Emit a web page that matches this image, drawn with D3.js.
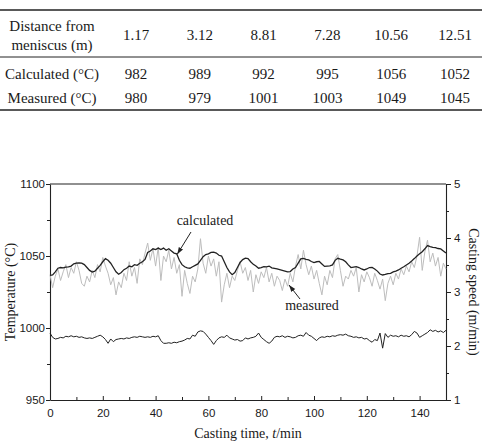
<!DOCTYPE html>
<html>
<head>
<meta charset="utf-8">
<script src="https://cdn.jsdelivr.net/npm/d3@7"></script>
<style>
  body { margin: 0; background: #fff; }
  svg text { fill: #1a1a1a; }
  .serif { font-family: "Liberation Serif", "Times New Roman", Times, "DejaVu Serif", serif; }
  .sans { font-family: "Liberation Sans", Arial, Helvetica, "DejaVu Sans", sans-serif; }
</style>
</head>
<body>
<div id="chart"></div>
<script>
// table values
const distances = ["1.17", "3.12", "8.81", "7.28", "10.56", "12.51"];
const calcRow = [982, 989, 992, 995, 1056, 1052];
const measRow = [980, 979, 1001, 1003, 1049, 1045];

// calculated temperature, one value per minute (0..150)
const calcTemp = [1036.5,1036.8,1039,1041.5,1042,1041.8,1042.2,1042.5,1043,1044.6,
  1045,1045.2,1045,1044,1042,1040,1038.8,1039.5,1041.5,1043.5,
  1046,1048.2,1047,1045,1042,1039,1037.3,1038.5,1040.5,1041.5,
  1043,1042.5,1044,1043.5,1045,1046,1047.6,1052.5,1053.5,1055,
  1054.5,1055.5,1054.5,1055.5,1054,1055,1053.5,1052,1051.5,1047,
  1044,1042.5,1041.8,1041.5,1042.5,1043.5,1044.5,1047,1049.5,1051,
  1051.5,1052.5,1052.6,1052,1050.5,1050,1046,1042,1039,1037,
  1038.5,1042,1045.5,1047.5,1048.5,1048.2,1046,1044.2,1043,1041.5,
  1042,1042.6,1042.5,1043,1041.8,1041.4,1041,1040.5,1040,1039.5,
  1039,1039.2,1041,1042,1045,1048,1048.3,1047.6,1047.3,1046.2,
  1045.4,1046,1046.2,1044.5,1042.8,1043,1043.2,1043.8,1047,1048.4,
  1047.8,1047.3,1046,1043.8,1042,1042.3,1042.6,1042,1041,1040.3,
  1041,1042,1042.1,1041,1039.5,1037.5,1036.8,1037.2,1037.8,1038,
  1039,1039.5,1040.3,1041.5,1042.5,1043.8,1045,1046.5,1048.2,1050,
  1051.5,1053,1055,1057.2,1056.5,1056,1055.8,1055.2,1054.9,1053.5,1052];

// measured temperature, one value per minute (0..150)
const measTemp = [1037,1028,1036,1041,1033,1039,1044,1035,1042,1038,
  1046,1040,1031,1029,1036,1032,1040,1035,1044,1039,
  1049,1043,1038,1030,1035,1023,1032,1028,1038,1033,
  1046,1036,1042,1031,1048,1044,1052,1059,1047,1055,
  1043,1056,1033,1050,1046,1054,1041,1049,1038,1044,
  1022,1040,1031,1024,1036,1032,1041,1062,1045,1038,
  1050,1043,1048,1036,1046,1018,1030,1038,1028,1036,
  1033,1040,1046,1038,1042,1033,1040,1025,1037,1031,
  1039,1035,1042,1032,1038,1029,1036,1033,1026,1034,
  1029,1038,1032,1043,1051,1041,1054,1044,1037,1043,
  1034,1040,1031,1023,1036,1030,1040,1035,1048,1051,
  1040,1029,1036,1034,1040,1036,1042,1025,1037,1032,
  1039,1035,1029,1038,1033,1027,1034,1019,1031,1036,
  1030,1038,1034,1041,1037,1043,1039,1046,1042,1050,
  1063,1040,1053,1061,1046,1052,1043,1049,1036,1045,1041];

// casting speed (m/min), one value per minute (0..150)
const speed = [2.24,2.16,2.13,2.14,2.16,2.15,2.18,2.17,2.19,2.17,
  2.18,2.16,2.17,2.15,2.14,2.15,2.14,2.16,2.18,2.20,
  2.17,2.12,2.05,2.13,2.08,2.12,2.13,2.14,2.13,2.15,
  2.14,2.16,2.17,2.16,2.18,2.17,2.16,2.17,2.16,2.18,
  2.17,2.19,2.10,2.05,2.05,2.06,2.05,2.07,2.06,2.08,
  2.09,2.11,2.14,2.13,2.20,2.18,2.26,2.28,2.27,2.22,
  2.16,2.10,2.03,2.10,2.15,2.17,2.16,2.20,2.15,2.13,
  2.11,2.12,2.09,2.10,2.15,2.13,2.15,2.16,2.18,2.24,
  2.16,2.12,2.08,2.05,2.09,2.16,2.18,2.17,2.19,2.16,
  2.18,2.17,2.15,2.16,2.19,2.20,2.18,2.25,2.20,2.18,
  2.14,2.10,2.15,2.17,2.16,2.18,2.17,2.19,2.18,2.20,
  2.21,2.20,2.22,2.19,2.18,2.16,2.17,2.15,2.16,2.13,
  2.14,2.10,2.07,2.12,2.10,2.24,1.96,2.23,2.16,2.20,
  2.18,2.19,2.17,2.20,2.18,2.19,2.17,2.21,2.27,2.24,
  2.16,2.19,2.22,2.25,2.30,2.27,2.29,2.26,2.28,2.25,2.29];

const width = 482, height = 446;
const margin = {top: 184, right: 36, bottom: 46, left: 50};

const svg = d3.select("#chart").append("svg")
    .attr("width", width)
    .attr("height", height);

// ---- table ----
const table = svg.append("g").attr("class", "table");
[[10, 1.3], [57, 1], [110, 1.4]].forEach(([y, w]) => {
    table.append("line")
        .attr("x1", 0).attr("x2", width)
        .attr("y1", y).attr("y2", y)
        .attr("stroke", "#222").attr("stroke-width", w);
});

const col = d3.scalePoint()
    .domain(d3.range(distances.length))
    .range([136, 455]);

const cell = (txt, x, y) => table.append("text")
    .attr("class", "serif")
    .attr("x", x).attr("y", y)
    .attr("text-anchor", "middle")
    .attr("font-size", 15)
    .text(txt);

cell("Distance from", 52, 31);
cell("meniscus (m)", 52, 50);
cell("Calculated (°C)", 52, 79);
cell("Measured (°C)", 52, 103);
distances.forEach((d, i) => cell(d, col(i), 40));
calcRow.forEach((d, i) => cell(d, col(i), 79));
measRow.forEach((d, i) => cell(d, col(i), 103));

// ---- chart ----
const x = d3.scaleLinear().domain([0, 150]).range([margin.left, width - margin.right]);
const y = d3.scaleLinear().domain([950, 1100]).range([height - margin.bottom, margin.top]);
const y2 = d3.scaleLinear().domain([1, 5]).range([height - margin.bottom, margin.top]);

const styleAxis = g => {
    g.attr("font-family", null).attr("font-size", null);
    g.select(".domain").attr("stroke", "#222").attr("stroke-width", 1.1);
    g.selectAll(".tick line").attr("stroke", "#222");
    g.selectAll("text")
        .attr("class", "sans")
        .attr("font-size", 11.5)
        .attr("fill", "#1a1a1a");
};

// minor ticks first
svg.append("g")
    .attr("transform", `translate(${margin.left},0)`)
    .call(d3.axisLeft(y).tickValues([975, 1025, 1075]).tickSize(3).tickFormat(""))
    .call(g => g.select(".domain").remove())
    .call(g => g.selectAll("line").attr("stroke", "#222"));
svg.append("g")
    .attr("transform", `translate(${width - margin.right},0)`)
    .call(d3.axisRight(y2).tickValues([1.5, 2.5, 3.5, 4.5]).tickSize(3).tickFormat(""))
    .call(g => g.select(".domain").remove())
    .call(g => g.selectAll("line").attr("stroke", "#222"));
svg.append("g")
    .attr("transform", `translate(0,${height - margin.bottom})`)
    .call(d3.axisBottom(x).tickValues(d3.range(10, 150, 20)).tickSize(-3).tickFormat(""))
    .call(g => g.select(".domain").remove())
    .call(g => g.selectAll("line").attr("stroke", "#222"));

svg.append("g")
    .attr("transform", `translate(${margin.left},0)`)
    .call(d3.axisLeft(y).tickValues([950, 1000, 1050, 1100]).tickFormat(d3.format("d"))
        .tickSize(4).tickSizeOuter(0).tickPadding(1))
    .call(styleAxis);

svg.append("g")
    .attr("transform", `translate(${width - margin.right},0)`)
    .call(d3.axisRight(y2).tickValues([1, 2, 3, 4, 5]).tickFormat(d3.format("d"))
        .tickSize(5).tickSizeOuter(0).tickPadding(3))
    .call(styleAxis);

svg.append("g")
    .attr("transform", `translate(0,${height - margin.bottom})`)
    .call(d3.axisBottom(x).tickValues(d3.range(0, 151, 20)).tickFormat(d3.format("d"))
        .tickSize(-4).tickSizeOuter(0).tickPadding(9))
    .call(styleAxis);

// top frame
svg.append("line")
    .attr("x1", x(0)).attr("x2", x(150))
    .attr("y1", y(1100)).attr("y2", y(1100))
    .attr("stroke", "#222").attr("stroke-width", 1.1);

// lines
const tempLine = d3.line().x((d, i) => x(i)).y(d => y(d));
const speedLine = d3.line().x((d, i) => x(i)).y(d => y2(d));

svg.append("path").datum(measTemp)
    .attr("d", tempLine)
    .attr("fill", "none").attr("stroke", "#bdbdbd").attr("stroke-width", 1);

svg.append("path").datum(calcTemp)
    .attr("d", tempLine)
    .attr("fill", "none").attr("stroke", "#222").attr("stroke-width", 1.3);

svg.append("path").datum(speed)
    .attr("d", speedLine)
    .attr("fill", "none").attr("stroke", "#222").attr("stroke-width", 1);

// annotations
svg.append("defs").append("marker")
    .attr("id", "arrow")
    .attr("viewBox", "0 0 10 10")
    .attr("refX", 10).attr("refY", 5)
    .attr("markerWidth", 7).attr("markerHeight", 7)
    .attr("orient", "auto")
    .append("path").attr("d", "M0,1.5L10,5L0,8.5Z").attr("fill", "#222");

const note = (txt, tx, ty, from, to) => {
    svg.append("text")
        .attr("class", "serif")
        .attr("x", tx).attr("y", ty)
        .attr("text-anchor", "middle")
        .attr("font-size", 14)
        .text(txt);
    svg.append("line")
        .attr("x1", from[0]).attr("y1", from[1])
        .attr("x2", to[0]).attr("y2", to[1])
        .attr("stroke", "#222").attr("stroke-width", 1)
        .attr("marker-end", "url(#arrow)");
};
note("calculated", 205, 225, [191, 232], [x(48.2), y(1051.2)]);
note("measured", 312, 310, [300, 299], [289, 285]);

// axis titles
svg.append("text")
    .attr("class", "serif")
    .attr("transform", `translate(10,${(y(950) + y(1100)) / 2}) rotate(-90)`)
    .attr("text-anchor", "middle")
    .attr("dy", "0.35em")
    .attr("font-size", 14)
    .text("Temperature (°C)");

svg.append("text")
    .attr("class", "serif")
    .attr("transform", `translate(474,${(y(950) + y(1100)) / 2}) rotate(90)`)
    .attr("text-anchor", "middle")
    .attr("dy", "0.35em")
    .attr("font-size", 14)
    .text("Casting speed (m/min)");

const xt = svg.append("text")
    .attr("class", "serif")
    .attr("x", (x(0) + x(150)) / 2).attr("y", 438)
    .attr("text-anchor", "middle")
    .attr("font-size", 14);
xt.append("tspan").text("Casting time, ");
xt.append("tspan").attr("font-style", "italic").text("t");
xt.append("tspan").text("/min");
</script>
</body>
</html>
